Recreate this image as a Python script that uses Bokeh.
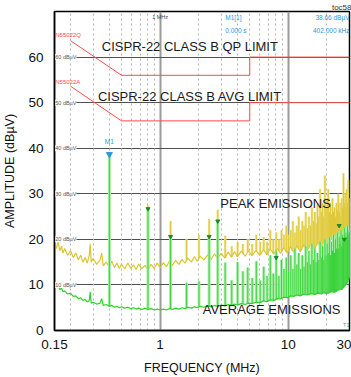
import numpy as np
from bokeh.plotting import figure
from bokeh.models import Range1d, FixedTicker, Grid, Label, ColumnDataSource
from bokeh.embed import file_html
from bokeh.resources import INLINE

# ---------------- data ----------------
freq_mhz = [0.15, 0.155, 0.16, 0.165, 0.17, 0.175, 0.18, 0.19, 0.2, 0.21, 0.22, 0.23, 0.24,
            0.25, 0.26, 0.27, 0.28, 0.285, 0.29, 0.30, 0.32, 0.34, 0.35, 0.36, 0.38, 0.40, 0.42,
            0.44, 0.46, 0.48, 0.50, 0.53, 0.56, 0.59, 0.62, 0.65, 0.68, 0.72, 0.76, 0.80,
            0.85, 0.90, 0.95, 1.0, 1.06, 1.12, 1.18, 1.25, 1.32, 1.40, 1.48, 1.56, 1.65,
            1.75, 1.85, 1.95, 2.05, 2.2, 2.35, 2.5, 2.65, 2.8, 3.0, 3.2, 3.4, 3.6, 3.8, 4.0,
            4.3, 4.6, 4.9, 5.2, 5.6, 6.0, 6.4, 6.8, 7.2, 7.7, 8.2, 8.7, 9.2, 9.8, 10.4, 11.0,
            11.7, 12.4, 13.2, 14.0, 15.0, 16.0, 17.0, 18.0, 19.0, 20.0, 21.5, 23.0, 24.5,
            26.0, 27.5, 29.0, 30.0]
peak_dbuv = [19.0, 18.0, 19.5, 17.5, 18.5, 17.0, 18.0, 16.5, 17.5, 16.0, 17.0, 15.5, 16.5,
             15.0, 16.0, 14.8, 16.5, 19.0, 15.0, 15.8, 14.5, 15.5, 17.0, 14.2, 15.0, 14.0, 15.2,
             13.8, 14.8, 13.6, 14.6, 13.5, 14.8, 13.6, 14.4, 13.4, 14.6, 13.5, 14.3, 13.4,
             14.5, 13.6, 14.8, 13.8, 14.9, 14.0, 15.2, 14.3, 15.4, 14.5, 15.6, 14.8, 15.9,
             15.0, 16.2, 15.2, 16.3, 15.5, 16.6, 15.6, 16.8, 15.9, 16.9, 15.9, 17.2, 16.1, 17.3, 16.2,
             17.4, 16.3, 17.5, 16.4, 17.6, 16.5, 17.8, 16.6, 17.9, 16.8, 18.0, 16.9, 18.2, 17.0, 18.4, 17.2,
             18.6, 17.3, 18.8, 17.5, 19.0, 17.8, 19.4, 18.1, 19.9, 18.5, 20.4, 19.0, 21.0,
             19.6, 21.8, 20.4, 22.0]
avg_dbuv = [10.2, 9.6, 9.9, 9.0, 9.3, 8.5, 8.7, 8.0, 8.2, 7.5, 7.6, 7.0, 7.2,
            6.6, 6.8, 6.3, 6.5, 8.5, 6.0, 6.2, 5.8, 6.0, 7.0, 5.5, 5.7, 5.3, 5.5,
            5.1, 5.3, 5.0, 5.2, 4.9, 5.1, 4.8, 5.0, 4.7, 4.9, 4.6, 4.9, 4.6,
            4.8, 4.5, 4.7, 4.5, 4.7, 4.5, 4.8, 4.6, 4.9, 4.7, 5.0, 4.8, 5.1,
            4.9, 5.2, 5.0, 5.3, 5.1, 5.4, 5.2, 5.5, 5.3, 5.6, 5.4, 5.7, 5.5, 5.8, 5.6,
            5.9, 5.7, 6.0, 5.9, 6.2, 6.1, 6.5, 6.3, 6.7, 6.6, 7.0, 6.9, 7.3, 7.2, 7.6, 7.5,
            7.8, 7.6, 8.0, 7.8, 8.1, 7.9, 8.2, 8.0, 8.3, 8.1, 8.5, 8.4, 8.9,
            9.0, 9.8, 10.6, 12.0]

harm_mhz = [0.402, 0.804, 1.206, 1.608, 2.010, 2.412, 2.814, 3.216, 3.618, 4.020, 4.422,
            4.824, 5.226, 5.628, 6.030, 6.432, 6.834, 7.236, 7.638, 8.040, 8.442, 8.844,
            9.246, 9.648, 10.050, 10.452, 10.854, 11.256, 11.658, 12.060, 12.462, 12.864,
            13.266, 13.668, 14.070, 14.472, 14.874, 15.276, 15.678, 16.080, 16.482, 16.884,
            17.286, 17.688, 18.090, 18.492, 18.894, 19.296, 19.698, 20.100, 20.502, 20.904,
            21.306, 21.708, 22.110, 22.512, 22.914, 23.316, 23.718, 24.120, 24.522, 24.924,
            25.326, 25.728, 26.130, 26.532, 26.934, 27.336, 27.738, 28.140, 28.542, 28.944,
            29.346, 29.748]
avg_spike_dbuv = [38.66, 26.7, 20.6, 10.5, 10.8, 20.6, 24.0, 14.9, 11.0, 15.0, 13.0,
                  13.8, 11.5, 15.2, 11.0, 14.0, 12.0, 16.5, 12.5, 17.5, 12.0, 15.5,
                  13.5, 16.0, 13.0,
                  16.5, 13.5, 18.0, 14.5, 17.0, 13.5, 16.5, 14.0, 18.5, 15.0, 17.5, 14.5,
                  19.0, 15.5, 18.0, 15.0, 17.0, 15.5, 19.5, 16.0, 18.5, 15.5, 20.0, 16.5,
                  19.0, 17.0, 20.5, 16.5, 19.5, 17.5, 21.0, 17.0, 20.0, 18.0, 21.5, 18.0,
                  20.5, 19.0, 22.0, 18.5, 21.0, 19.5, 22.5, 20.0, 21.5, 20.5, 23.0, 21.0, 22.0]
peak_spike_dbuv = [39.0, 27.5, 24.0, 20.0, 21.0, 24.5, 26.5, 20.8, 18.5, 19.5, 19.0,
                   20.0, 19.0, 21.0, 19.5, 20.5, 19.5, 22.0, 20.0, 21.5, 20.0, 22.0,
                   21.0, 23.0, 21.0,
                   22.0, 24.0, 21.5, 23.0, 25.0, 22.0, 24.0, 23.0, 26.0, 22.5, 25.0, 23.0,
                   27.0, 24.0, 26.0, 23.5, 28.0, 25.0, 31.0, 26.0, 28.0, 25.0, 34.0, 27.0,
                   29.0, 31.0, 26.0, 28.0, 25.5, 29.0, 26.0, 27.0, 25.0, 28.0, 26.5, 30.0,
                   26.0, 28.0, 25.0, 29.0, 27.0, 34.5, 28.0, 30.0, 27.0, 31.0, 28.0, 33.0, 29.0]

# CISPR-22 class B limit lines (drawn from ~0.2 MHz as in the picture)
limit_mhz = [0.2, 0.5, 5.0, 5.0, 30.0]
qp_limit_dbuv = [63.6, 56.0, 56.0, 60.0, 60.0]
avg_limit_dbuv = [53.6, 46.0, 46.0, 50.0, 50.0]

# marker points
m1_mhz = [0.402]
m1_dbuv = [38.66]
mark_mhz = [0.804, 1.206, 2.412, 2.814, 8.04, 24.9, 27.3]
mark_dbuv = [26.7, 20.6, 20.6, 24.0, 16.0, 23.0, 20.0]

x_ticks = [0.15, 1, 10, 30]
x_tick_labels = ["0.15", "1", "10", "30"]
y_ticks = [0, 10, 20, 30, 40, 50, 60]
minor_grid_mhz = [0.2, 0.3, 0.4, 0.5, 0.6, 0.7, 0.8, 0.9, 2, 3, 4, 5, 6, 7, 8, 9, 20]
level_labels = [10, 20, 30, 40, 50, 60]

# ---------------- styling ----------------
FONT = "Liberation Sans"
YEL = "#dcc530"
YEL_PALE = "#efe38a"
GRN = "#2fd12f"
GRN_PALE = "#a6efa6"
RED = "#ff4b4b"
BLUE = "#2b98e0"

p = figure(width=351, height=377, x_axis_type="log",
           x_range=Range1d(0.15, 30), y_range=Range1d(0, 70),
           output_backend="svg", toolbar_location=None,
           min_border_left=48, min_border_right=2, min_border_top=11, min_border_bottom=46)

p.title.text = "toc58"
p.title.align = "right"
p.title.text_font = FONT
p.title.text_font_size = "8px"
p.title.text_font_style = "normal"
p.title.text_color = "#333333"
p.title.standoff = 0
p.title.offset = -2

p.background_fill_color = "white"
p.border_fill_color = "white"
p.outline_line_color = "black"
p.outline_line_width = 1.5

# grids
p.ygrid.ticker = FixedTicker(ticks=level_labels)
p.ygrid.grid_line_color = "#505050"
p.ygrid.grid_line_width = 1
p.xgrid.ticker = FixedTicker(ticks=[1, 10])
p.xgrid.grid_line_color = "#9a9a9a"
p.xgrid.grid_line_width = 2
minor = Grid(dimension=0, ticker=FixedTicker(ticks=minor_grid_mhz),
             grid_line_color="#b5b5b5", grid_line_dash="2 3", grid_line_width=1)
p.add_layout(minor)

# axes
p.xaxis.ticker = FixedTicker(ticks=x_ticks)
p.xaxis.major_label_overrides = {t: s for t, s in zip(x_ticks, x_tick_labels)}
p.yaxis.ticker = FixedTicker(ticks=y_ticks)
for ax in (p.xaxis[0], p.yaxis[0]):
    ax.major_tick_line_color = None
    ax.minor_tick_line_color = None
    ax.axis_line_color = "black"
    ax.axis_line_width = 1.5
    ax.major_label_text_font = FONT
    ax.major_label_text_font_size = "13.5px"
    ax.major_label_text_color = "#111111"
    ax.axis_label_text_font = FONT
    ax.axis_label_text_font_size = "12.5px"
    ax.axis_label_text_font_style = "normal"
    ax.axis_label_text_color = "#111111"
p.xaxis.major_label_standoff = 3
p.yaxis.major_label_standoff = 5
p.xaxis.axis_label = "FREQUENCY (MHz)"
p.xaxis.axis_label_standoff = 9
p.yaxis.axis_label = "AMPLITUDE (dBµV)"
p.yaxis.axis_label_standoff = 8

# ---------------- traces ----------------
lf = np.log10(freq_mhz)
peak_base = np.interp(np.log10(harm_mhz), lf, peak_dbuv)
avg_base = np.interp(np.log10(harm_mhz), lf, avg_dbuv)

spk = ColumnDataSource(dict(f=harm_mhz, pk=peak_spike_dbuv, av=avg_spike_dbuv,
                            pb=peak_base, ab=avg_base))

# peak (yellow)
p.segment(x0="f", y0="pb", x1="f", y1="pk", source=spk, line_color=YEL_PALE, line_width=2.5)
p.segment(x0="f", y0="pb", x1="f", y1="pk", source=spk, line_color=YEL, line_width=0.9)
p.line(freq_mhz, peak_dbuv, line_color=YEL, line_width=1.2)

# average (green)
p.segment(x0="f", y0="ab", x1="f", y1="av", source=spk, line_color=GRN_PALE, line_width=3)
p.segment(x0="f", y0="ab", x1="f", y1="av", source=spk, line_color=GRN, line_width=0.9)
p.line(freq_mhz, avg_dbuv, line_color=GRN, line_width=1.2)

# limits
p.line(limit_mhz, qp_limit_dbuv, line_color=RED, line_width=1)
p.line(limit_mhz, avg_limit_dbuv, line_color=RED, line_width=1)

# markers
p.scatter(mark_mhz, mark_dbuv, marker="inverted_triangle", size=4, color="#1c8c2a")
p.scatter(m1_mhz, m1_dbuv, marker="inverted_triangle", size=6, color=BLUE)

# ---------------- texts ----------------
def lab(x, y, text, size, color, align="left", baseline="middle", bg=None):
    p.add_layout(Label(x=x, y=y, text=text, text_font=FONT, text_font_size=size,
                       text_color=color, text_align=align, text_baseline=baseline,
                       background_fill_color=bg))

lab(0.351, 62.3, "CISPR-22 CLASS B QP LIMIT", "13px", "#1a1a1a")
lab(0.327, 51.4, "CISPR-22 CLASS B AVG LIMIT", "13px", "#1a1a1a")
lab(2.95, 27.8, "PEAK EMISSIONS", "13px", "#1a1a1a")
lab(2.15, 4.6, "AVERAGE EMISSIONS", "13px", "#1a1a1a")

for lv in level_labels:
    lab(0.152, lv, f"{lv} dBµV", "5.5px", "#555555", bg="white")

lab(1.0, 68.7, "1 MHz", "5.5px", "#444444", align="center")
lab(3.22, 68.7, "M1[1]", "6.5px", BLUE)
lab(3.22, 65.9, "0.000 s", "6.5px", BLUE)
lab(30, 68.7, "38.66 dBµV", "6.5px", BLUE, align="right")
lab(30, 65.9, "402.000 kHz", "6.5px", BLUE, align="right")
lab(0.152, 64.8, "N55022Q", "6px", RED)
lab(0.152, 54.5, "N55022A", "6px", RED)
lab(0.402, 41.4, "M1", "6.5px", BLUE, align="center")
lab(30, 1.3, "T1", "5.5px", "#3a9cb0", align="right")

open("out.html", "w").write(file_html(p, INLINE))
